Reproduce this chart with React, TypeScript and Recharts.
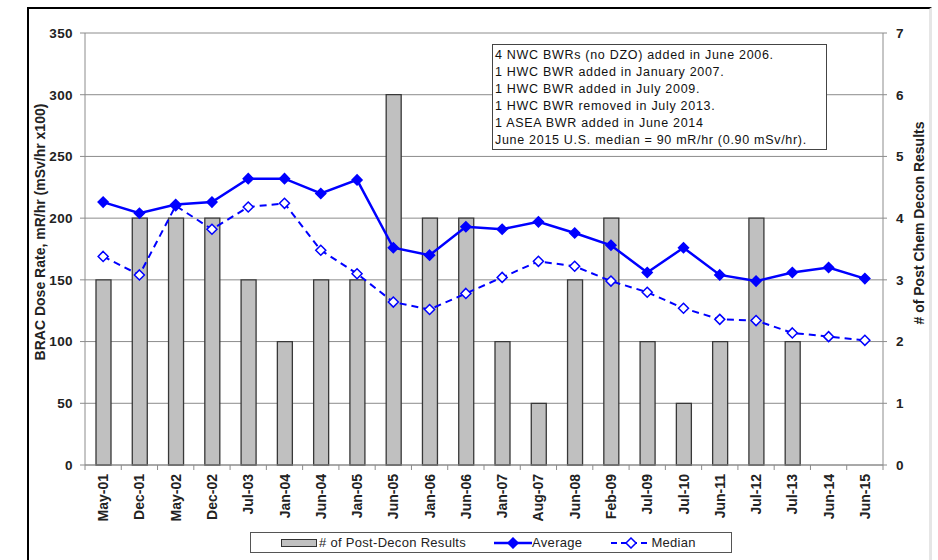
import React from "react";
import {
  ComposedChart,
  Bar,
  Line,
  XAxis,
  YAxis,
  CartesianGrid,
} from "recharts";

// sampling dates (x axis)
const periods = [
  "May-01", "Dec-01", "May-02", "Dec-02", "Jul-03", "Jan-04", "Jun-04", "Jan-05",
  "Jun-05", "Jan-06", "Jun-06", "Jan-07", "Aug-07", "Jun-08", "Feb-09", "Jul-09",
  "Jul-10", "Jun-11", "Jul-12", "Jul-13", "Jun-14", "Jun-15",
];

// # of post chem decon results (right axis)
const deconCounts = [3, 4, 4, 4, 3, 2, 3, 3, 6, 4, 4, 2, 1, 3, 4, 2, 1, 2, 4, 2, 0, 0];

// BRAC dose rate, mR/hr (left axis)
const averageDose = [
  213, 204, 211, 213, 232, 232, 220, 231, 176, 170, 193, 191, 197, 188, 178, 156,
  176, 154, 149, 156, 160, 151,
];
const medianDose = [
  169, 154, 210, 191, 209, 212, 174, 155, 132, 126, 139, 152, 165, 161, 149, 140,
  127, 118, 117, 107, 104, 101,
];

const leftTicks = [0, 50, 100, 150, 200, 250, 300, 350];
const rightTicks = [0, 1, 2, 3, 4, 5, 6, 7];

const notes = [
  "4 NWC BWRs (no DZO) added in June 2006.",
  "1 HWC BWR added in January 2007.",
  "1 HWC BWR added in July 2009.",
  "1 HWC BWR removed in July 2013.",
  "1 ASEA BWR added in June 2014",
  "June 2015 U.S. median = 90 mR/hr (0.90 mSv/hr).",
];

const data = periods.map((p, i) => ({
  period: p,
  count: deconCounts[i],
  average: averageDose[i],
  median: medianDose[i],
}));

const FONT = "'Liberation Sans', Arial, sans-serif";
const BLUE = "#0000ff";
const AXIS = "#8c8c8c";

// plot geometry
const W = 938;
const H = 560;
const MARGIN = { top: 33, right: 15, left: 25, bottom: 35 };
const LEFT_W = 60;
const RIGHT_W = 40;
const PLOT_W = W - MARGIN.left - MARGIN.right - LEFT_W - RIGHT_W;
const HALF_BAND = PLOT_W / periods.length / 2;

const tickFont = {
  fill: "#222",
  fontSize: 13.5,
  fontWeight: "bold",
  fontFamily: FONT,
  letterSpacing: 0.4,
};

function Diamond({ cx, cy, filled }: { cx?: number; cy?: number; filled: boolean }) {
  if (cx == null || cy == null) return null;
  const r = 5;
  return (
    <polygon
      points={`${cx},${cy - r} ${cx + r},${cy} ${cx},${cy + r} ${cx - r},${cy}`}
      fill={filled ? BLUE : "#fff"}
      stroke={BLUE}
      strokeWidth={1.5}
    />
  );
}

function PeriodTick(props: any) {
  const { x, y, payload, index } = props;
  return (
    <g>
      <line x1={x - HALF_BAND} x2={x - HALF_BAND} y1={y} y2={y + 5} stroke={AXIS} />
      {index === periods.length - 1 && (
        <line x1={x + HALF_BAND} x2={x + HALF_BAND} y1={y} y2={y + 5} stroke={AXIS} />
      )}
      <text
        x={x + 5}
        y={y + 9}
        transform={`rotate(-90, ${x + 5}, ${y + 9})`}
        textAnchor="end"
        fontFamily={FONT}
        fontSize={14}
        fontWeight="bold"
        fill="#222"
      >
        {payload.value}
      </text>
    </g>
  );
}

function SideLabel({ x, y, text }: { x: number; y: number; text: string }) {
  return (
    <text
      x={x}
      y={y}
      transform={`rotate(-90, ${x}, ${y})`}
      textAnchor="middle"
      dominantBaseline="central"
      fontFamily={FONT}
      fontSize={14}
      fontWeight="bold"
      fill="#222"
    >
      {text}
    </text>
  );
}

function LegendBox() {
  return (
    <div
      style={{
        position: "absolute",
        left: 250,
        top: 532,
        width: 482,
        height: 21,
        border: "1px solid #555",
        boxSizing: "border-box",
        background: "#fff",
        display: "flex",
        alignItems: "center",
        fontFamily: FONT,
        fontSize: 13,
        letterSpacing: 0.3,
        color: "#222",
      }}
    >
      <span
        style={{
          display: "inline-block",
          width: 34,
          height: 6,
          marginLeft: 30,
          marginRight: 2,
          background: "#c0c0c0",
          border: "1px solid #333",
        }}
      />
      <span>&#35; of Post-Decon Results</span>
      <svg width={38} height={12} style={{ marginLeft: 28 }}>
        <line x1={0} x2={38} y1={6} y2={6} stroke={BLUE} strokeWidth={2.5} />
        <Diamond cx={19} cy={6} filled />
      </svg>
      <span>Average</span>
      <svg width={40} height={12} style={{ marginLeft: 29 }}>
        <line x1={0} x2={40} y1={6} y2={6} stroke={BLUE} strokeWidth={2} strokeDasharray="6 4" />
        <Diamond cx={20} cy={6} filled={false} />
      </svg>
      <span>Median</span>
    </div>
  );
}

export default function App() {
  return (
    <div style={{ position: "absolute", left: 0, top: 0, width: W, height: H, background: "#fff" }}>
      <div
        style={{
          position: "absolute",
          left: 27,
          top: 7,
          width: 900,
          height: H,
          borderLeft: "2px solid #000",
          borderTop: "2px solid #000",
          borderRight: "3px solid #e6e6e6",
        }}
      />
      <div style={{ position: "absolute", left: 0, top: 0 }}>
        <ComposedChart width={W} height={H} data={data} margin={MARGIN}>
          <CartesianGrid vertical={false} stroke={AXIS} yAxisId="left" />
          <XAxis
            dataKey="period"
            xAxisId={0}
            height={60}
            interval={0}
            tickLine={false}
            tickSize={0}
            tickMargin={0}
            axisLine={{ stroke: AXIS }}
            tick={<PeriodTick />}
          />
          <YAxis
            yAxisId="left"
            width={LEFT_W}
            domain={[0, 350]}
            ticks={leftTicks}
            interval={0}
            tickSize={5}
            tickMargin={7}
            axisLine={{ stroke: AXIS }}
            tickLine={{ stroke: AXIS }}
            tick={tickFont}
            label={() => <SideLabel x={40} y={232} text="BRAC Dose Rate, mR/hr (mSv/hr x100)" />}
          />
          <YAxis
            yAxisId="right"
            orientation="right"
            width={RIGHT_W}
            domain={[0, 7]}
            ticks={rightTicks}
            interval={0}
            tickSize={4}
            tickMargin={9}
            axisLine={{ stroke: AXIS }}
            tickLine={{ stroke: AXIS }}
            tick={tickFont}
            label={() => <SideLabel x={919} y={223} text="# of Post Chem Decon Results" />}
          />
          <Bar
            yAxisId="right"
            dataKey="count"
            barSize={15}
            fill="#c0c0c0"
            stroke="#383838"
            strokeWidth={1.3}
            isAnimationActive={false}
          />
          <Line
            yAxisId="left"
            dataKey="median"
            stroke={BLUE}
            strokeWidth={2}
            strokeDasharray="7 5"
            dot={(p: any) => <Diamond key={`m${p.index}`} cx={p.cx} cy={p.cy} filled={false} />}
            activeDot={false}
            isAnimationActive={false}
          />
          <Line
            yAxisId="left"
            dataKey="average"
            stroke={BLUE}
            strokeWidth={2.5}
            dot={(p: any) => <Diamond key={`a${p.index}`} cx={p.cx} cy={p.cy} filled />}
            activeDot={false}
            isAnimationActive={false}
          />
        </ComposedChart>
      </div>
      <div
        style={{
          position: "absolute",
          left: 492,
          top: 44,
          width: 335,
          height: 106,
          border: "1px solid #444",
          background: "#fff",
          fontFamily: FONT,
          fontSize: 12.5,
          letterSpacing: 0.7,
          lineHeight: "17px",
          color: "#111",
          paddingTop: 2,
          paddingLeft: 2,
          boxSizing: "border-box",
        }}
      >
        {notes.map((n) => (
          <div key={n} style={{ whiteSpace: "nowrap" }}>
            {n}
          </div>
        ))}
      </div>
      <LegendBox />
    </div>
  );
}
